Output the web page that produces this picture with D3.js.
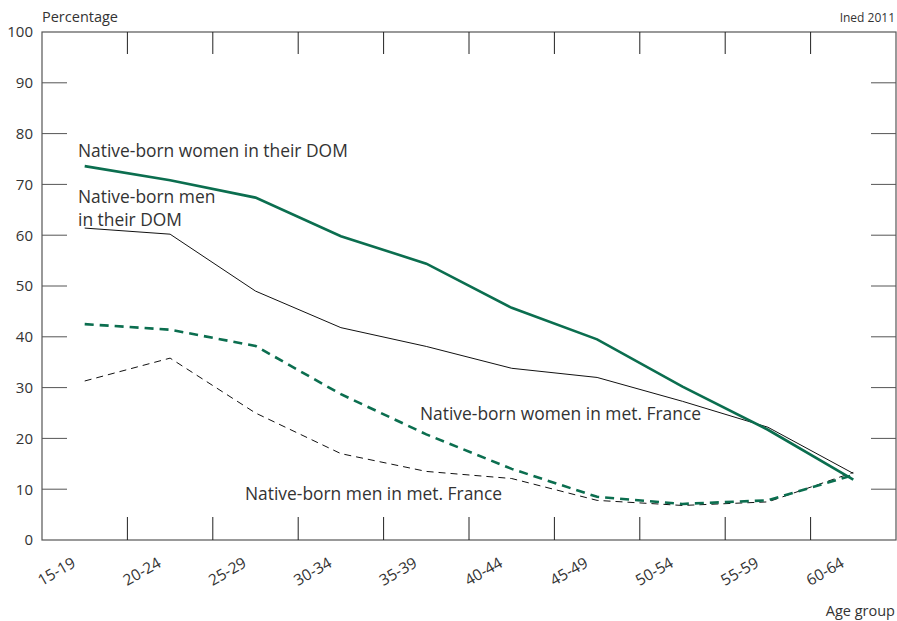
<!DOCTYPE html>
<html><head><meta charset="utf-8">
<script src="https://cdn.jsdelivr.net/npm/d3@7"></script>
<style>body{margin:0;background:#fff}svg text{font-family:"Open Sans",sans-serif;fill:#333}</style>
</head><body><svg id="c" width="897" height="621"></svg>
<script>
const ageGroups = ["15-19","20-24","25-29","30-34","35-39","40-44","45-49","50-54","55-59","60-64"];
const womenDOM = [73.6,70.8,67.4,59.8,54.4,45.7,39.5,30.2,21.7,11.9];
const menDOM   = [61.4,60.2,49.0,41.8,38.1,33.8,32.0,27.3,22.2,13.1];
const womenMet = [42.5,41.4,38.2,28.7,20.8,14.0,8.5,7.1,7.8,12.8];
const menMet   = [31.3,35.8,25.0,17.0,13.5,12.1,7.8,6.8,7.5,13.3];
const yTicks = [0,10,20,30,40,50,60,70,80,90,100];

const svg = d3.select("#c");
const L=42, R=896, T=32, B=540;
const x = d3.scaleBand().domain(ageGroups).range([L,R]);
const y = d3.scaleLinear().domain([0,100]).range([B,T]);
const axisCol="#555";

svg.append("rect").attr("x",L).attr("y",T).attr("width",R-L).attr("height",B-T)
  .attr("fill","none").attr("stroke",axisCol).attr("stroke-width",1.2);

const bounds = ageGroups.slice(1).map(a=>x(a));
bounds.forEach(bx=>{
  svg.append("line").attr("x1",bx).attr("x2",bx).attr("y1",B).attr("y2",B-23).attr("stroke","#222");
  svg.append("line").attr("x1",bx).attr("x2",bx).attr("y1",T).attr("y2",T+22).attr("stroke","#222");
});
yTicks.slice(1,-1).forEach(v=>{
  svg.append("line").attr("x1",L).attr("x2",L+25).attr("y1",y(v)).attr("y2",y(v)).attr("stroke",axisCol);
  svg.append("line").attr("x1",R).attr("x2",R-25).attr("y1",y(v)).attr("y2",y(v)).attr("stroke",axisCol);
});
yTicks.forEach(v=>{
  svg.append("text").attr("x",33).attr("y",y(v)).attr("dy","0.36em").attr("text-anchor","end")
    .attr("font-size",15).text(v);
});
ageGroups.forEach(a=>{
  const cx = x(a)+x.bandwidth()/2;
  svg.append("text").attr("transform",`translate(${cx-8},${B+26}) rotate(-30)`)
    .attr("text-anchor","end").attr("font-size",15.5).text(a);
});

const line = d3.line().x((d,i)=>x(ageGroups[i])+x.bandwidth()/2).y(d=>y(d));
const green="#0b6e4f";
svg.append("path").datum(menMet).attr("d",line).attr("fill","none").attr("stroke","#111").attr("stroke-width",1).attr("stroke-dasharray","7,5");
svg.append("path").datum(womenMet).attr("d",line).attr("fill","none").attr("stroke",green).attr("stroke-width",2.6).attr("stroke-dasharray","9,6");
svg.append("path").datum(menDOM).attr("d",line).attr("fill","none").attr("stroke","#111").attr("stroke-width",1);
svg.append("path").datum(womenDOM).attr("d",line).attr("fill","none").attr("stroke",green).attr("stroke-width",2.6);

const ann=(tx,ty,t,fs=17.4,anchor="start")=>svg.append("text").attr("x",tx).attr("y",ty).attr("font-size",fs).attr("text-anchor",anchor).text(t);
ann(78,157,"Native-born women in their DOM");
ann(78,203,"Native-born men");
ann(78,226,"in their DOM");
ann(420,420,"Native-born women in met. France");
ann(245,500,"Native-born men in met. France");
ann(42,22,"Percentage",14.5);
ann(895,22,"Ined 2011",12,"end");
ann(895,616,"Age group",14.5,"end");
</script></body></html>
